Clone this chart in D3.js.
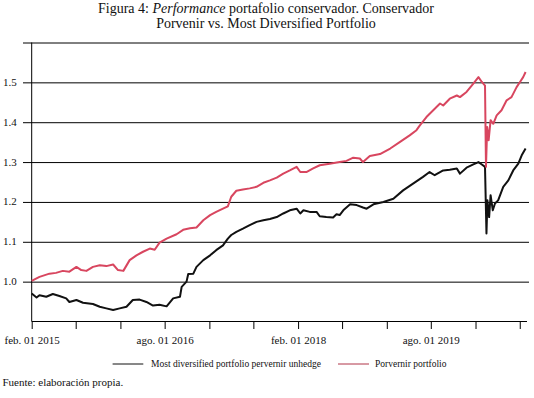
<!DOCTYPE html>
<html>
<head>
<meta charset="utf-8">
<script src="https://cdn.jsdelivr.net/npm/d3@7"></script>
<style>
  html, body { margin: 0; padding: 0; background: #fff; }
  svg { display: block; font-family: "Liberation Serif", "Times New Roman", serif; }
</style>
</head>
<body>
<svg id="chart" width="534" height="398"></svg>
<script>
// ---- Data ----
const porvenirSeries = [
  ["2015-02-01",1.002],["2015-03-05",1.012],["2015-04-15",1.020],["2015-05-12",1.022],
  ["2015-06-09",1.027],["2015-07-06",1.025],["2015-08-04",1.037],["2015-08-24",1.029],
  ["2015-09-14",1.027],["2015-10-11",1.037],["2015-11-08",1.041],["2015-12-05",1.039],
  ["2016-01-02",1.043],["2016-01-22",1.029],["2016-02-13",1.027],["2016-03-10",1.054],
  ["2016-04-07",1.066],["2016-05-04",1.075],["2016-06-01",1.083],["2016-06-21",1.080],
  ["2016-07-11",1.098],["2016-08-09",1.108],["2016-09-19",1.119],["2016-10-16",1.130],
  ["2016-11-13",1.134],["2016-12-10",1.136],["2017-01-07",1.154],["2017-02-04",1.167],
  ["2017-03-01",1.175],["2017-03-29",1.183],["2017-04-18",1.189],["2017-05-02",1.213],
  ["2017-05-23",1.228],["2017-06-19",1.231],["2017-07-17",1.234],["2017-08-14",1.238],
  ["2017-09-11",1.248],["2017-10-08",1.254],["2017-11-05",1.261],["2017-12-02",1.271],
  ["2017-12-29",1.279],["2018-01-26",1.288],["2018-02-10",1.275],["2018-03-07",1.275],
  ["2018-04-04",1.284],["2018-05-01",1.292],["2018-06-11",1.296],["2018-07-22",1.300],
  ["2018-08-19",1.303],["2018-09-16",1.311],["2018-10-13",1.309],["2018-10-26",1.300],
  ["2018-11-23",1.315],["2019-01-04",1.320],["2019-02-15",1.334],["2019-03-26",1.350],
  ["2019-05-06",1.367],["2019-06-03",1.380],["2019-06-17",1.392],["2019-07-14",1.413],
  ["2019-08-11",1.430],["2019-09-08",1.447],["2019-09-21",1.442],["2019-10-18",1.459],
  ["2019-11-16",1.467],["2019-11-29",1.463],["2019-12-26",1.476],["2020-01-23",1.497],
  ["2020-02-13",1.513],["2020-02-27",1.501],["2020-03-11",1.492],["2020-03-15",1.288],
  ["2020-03-20",1.388],["2020-03-26",1.355],["2020-04-03",1.405],["2020-04-14",1.396],
  ["2020-04-28",1.417],["2020-05-18",1.430],["2020-06-08",1.455],["2020-06-28",1.463],
  ["2020-07-19",1.488],["2020-08-02",1.501],["2020-08-15",1.513],["2020-08-25",1.526]
];
const mdpSeries = [
  ["2015-02-01",0.970],["2015-02-21",0.960],["2015-03-05",0.966],["2015-04-02",0.962],
  ["2015-04-29",0.969],["2015-05-26",0.964],["2015-06-23",0.958],["2015-07-06",0.949],
  ["2015-08-04",0.954],["2015-08-31",0.947],["2015-10-11",0.944],["2015-11-08",0.937],
  ["2015-12-05",0.933],["2016-01-02",0.929],["2016-01-29",0.933],["2016-02-26",0.937],
  ["2016-03-23",0.954],["2016-04-20",0.955],["2016-05-18",0.949],["2016-06-14",0.940],
  ["2016-07-11",0.942],["2016-08-09",0.938],["2016-09-05",0.958],["2016-10-03",0.962],
  ["2016-10-10",0.987],["2016-10-30",1.000],["2016-11-06",1.019],["2016-11-27",1.020],
  ["2016-12-10",1.037],["2017-01-07",1.054],["2017-02-04",1.066],["2017-03-01",1.079],
  ["2017-03-29",1.091],["2017-04-18",1.108],["2017-05-02",1.117],["2017-05-23",1.125],
  ["2017-06-19",1.133],["2017-07-17",1.142],["2017-08-14",1.150],["2017-09-11",1.154],
  ["2017-10-08",1.157],["2017-11-05",1.162],["2017-12-02",1.171],["2017-12-29",1.179],
  ["2018-01-26",1.183],["2018-02-10",1.171],["2018-02-23",1.179],["2018-03-21",1.175],
  ["2018-04-18",1.175],["2018-05-01",1.164],["2018-05-28",1.162],["2018-06-25",1.161],
  ["2018-07-09",1.169],["2018-07-22",1.167],["2018-08-06",1.179],["2018-09-03",1.194],
  ["2018-09-30",1.192],["2018-10-26",1.186],["2018-11-10",1.183],["2018-12-08",1.194],
  ["2019-01-18",1.200],["2019-02-28",1.208],["2019-04-09",1.229],["2019-05-20",1.246],
  ["2019-06-30",1.263],["2019-07-27",1.275],["2019-08-17",1.267],["2019-09-21",1.279],
  ["2019-10-18",1.281],["2019-11-16",1.284],["2019-11-29",1.271],["2019-12-26",1.286],
  ["2020-01-23",1.294],["2020-02-13",1.300],["2020-02-27",1.294],["2020-03-11",1.288],
  ["2020-03-17",1.121],["2020-03-21",1.204],["2020-03-28",1.162],["2020-04-03",1.217],
  ["2020-04-12",1.179],["2020-04-21",1.196],["2020-05-04",1.204],["2020-05-25",1.238],
  ["2020-06-15",1.254],["2020-07-05",1.279],["2020-07-26",1.296],["2020-08-09",1.317],
  ["2020-08-25",1.334]
];
const xTickDates = ["2015-02-01","2015-08-01","2016-02-01","2016-08-01","2017-02-01","2017-08-01",
                    "2018-02-01","2018-08-01","2019-02-01","2019-08-01","2020-02-01","2020-08-01"];
const xTickLabels = ["feb. 01 2015","","","ago. 01 2016","","","feb. 01 2018","","","ago. 01 2019","",""];
const yTicks = [1.0, 1.1, 1.2, 1.3, 1.4, 1.5, 1.6];
const yTickLabels = ["1.0","1.1","1.2","1.3","1.4","1.5",""];
const seriesNames = ["Most diversified portfolio pervernir unhedge", "Porvernir portfolio"];
const seriesColors = ["#111111", "#d8465f"];

// ---- Setup ----
const parse = d3.timeParse("%Y-%m-%d");
const svg = d3.select("#chart");

const x = d3.scaleTime()
  .domain([parse("2015-02-01"), parse("2020-09-08")])
  .range([31.7, 529]);
const y = d3.scaleLinear()
  .domain([0.9, 1.6])
  .range([321.5, 42.5]);

// Title
const title = svg.append("text").attr("x", 266).attr("y", 12.5)
  .attr("text-anchor", "middle").attr("font-size", 14).attr("fill", "#111");
title.append("tspan").text("Figura 4: ");
title.append("tspan").attr("font-style", "italic").text("Performance");
title.append("tspan").text(" portafolio conservador. Conservador");
svg.append("text").attr("x", 266).attr("y", 27.5)
  .attr("text-anchor", "middle").attr("font-size", 14).attr("fill", "#111")
  .text("Porvenir vs. Most Diversified Portfolio");

// Y gridlines with left extension (via axis)
const yAxis = d3.axisLeft(y)
  .tickValues(yTicks)
  .tickSize(-(529 - 23))
  .tickFormat((d, i) => yTickLabels[i]);
const gy = svg.append("g").attr("transform", "translate(23,0)").call(yAxis);
gy.select(".domain").remove();
gy.selectAll(".tick line").attr("stroke", "#000").attr("stroke-width", 1).attr("x1", 0).attr("x2", 529 - 23);
gy.selectAll(".tick text")
  .attr("x", -6.3).attr("dy", null).attr("y", 3)
  .attr("font-size", 11).attr("font-family", "Liberation Serif, serif").attr("fill", "#111");

// Y axis vertical line
svg.append("line")
  .attr("x1", x.range()[0]).attr("x2", x.range()[0])
  .attr("y1", y(1.6)).attr("y2", y(0.9))
  .attr("stroke", "#000").attr("stroke-width", 1);

// X axis
const xAxis = d3.axisBottom(x)
  .tickValues(xTickDates.map(parse))
  .tickSize(7.5)
  .tickSizeOuter(0)
  .tickFormat((d, i) => xTickLabels[i]);
const gx = svg.append("g").attr("transform", `translate(0,${y(0.9)})`).call(xAxis);
gx.select(".domain").attr("stroke", "#000").attr("d", `M${x.range()[0]},0H${x.range()[1] - 2}`);
gx.selectAll(".tick line").attr("stroke", "#000");
gx.selectAll(".tick text")
  .attr("y", 14).attr("dy", null).attr("dominant-baseline", "hanging")
  .attr("font-size", 11).attr("font-family", "Liberation Serif, serif").attr("fill", "#111");

// Lines
const line = d3.line()
  .x(d => x(parse(d[0])))
  .y(d => y(d[1]));

svg.append("path").datum(mdpSeries)
  .attr("fill", "none").attr("stroke", seriesColors[0])
  .attr("stroke-width", 2).attr("stroke-linejoin", "round")
  .attr("d", line);
svg.append("path").datum(porvenirSeries)
  .attr("fill", "none").attr("stroke", seriesColors[1])
  .attr("stroke-width", 2).attr("stroke-linejoin", "round")
  .attr("d", line);

// Legend
const legendItems = [
  { name: seriesNames[0], color: "#111", x1: 112.6, x2: 143.3, tx: 151 },
  { name: seriesNames[1], color: "#b03448", x1: 338, x2: 369, tx: 375 }
];
const lg = svg.append("g");
legendItems.forEach(it => {
  lg.append("line").attr("x1", it.x1).attr("x2", it.x2).attr("y1", 364).attr("y2", 364)
    .attr("stroke", it.color).attr("stroke-width", 1);
  lg.append("text").attr("x", it.tx).attr("y", 367)
    .attr("font-size", 9.5).attr("fill", "#111").text(it.name);
});

// Source note
svg.append("text").attr("x", 2.5).attr("y", 386)
  .attr("font-size", 11).attr("fill", "#111")
  .text("Fuente: elaboración propia.");
</script>
</body>
</html>
